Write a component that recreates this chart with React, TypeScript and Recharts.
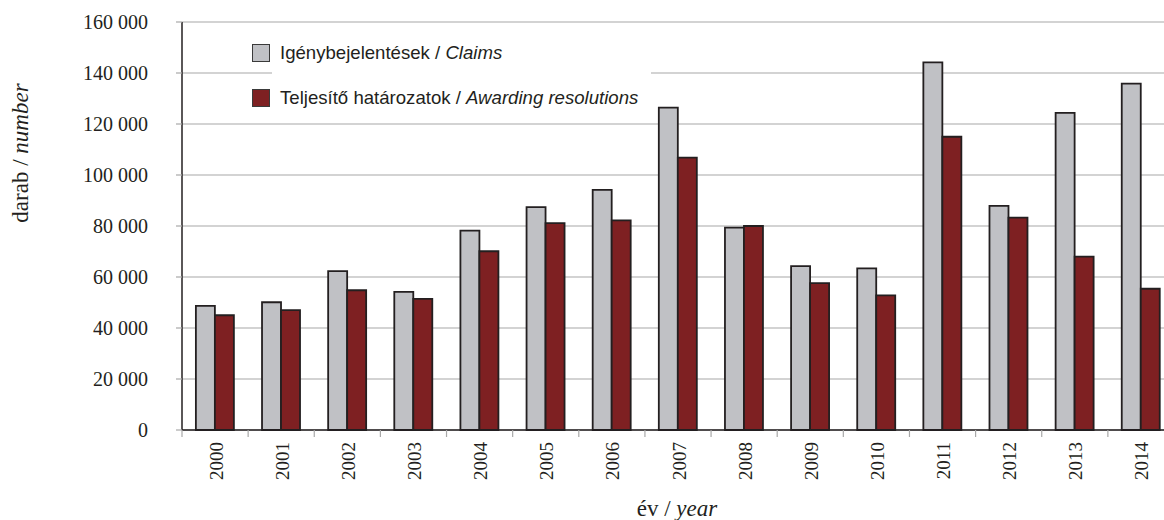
import { Bar, BarChart, CartesianGrid, Legend, XAxis, YAxis } from "recharts";

const YEARS = ["2000", "2001", "2002", "2003", "2004", "2005", "2006", "2007", "2008", "2009", "2010", "2011", "2012", "2013", "2014"];
const CLAIMS = [48700, 50100, 62300, 54200, 78200, 87400, 94200, 126400, 79400, 64300, 63400, 144200, 87900, 124400, 135800];
const AWARDS = [45000, 47000, 54800, 51400, 70100, 81100, 82200, 106800, 80000, 57600, 52800, 115000, 83300, 68000, 55400];
const Y_TICKS = [0, 20000, 40000, 60000, 80000, 100000, 120000, 140000, 160000];

const INK = "#231f20";
const GREY_BAR = "#c0c1c5";
const RED_BAR = "#7e2022";
const GRID = "#a8a8a8";
const SERIF = "'Liberation Serif', 'Times New Roman', serif";
const SANS = "'Liberation Sans', Arial, sans-serif";

const data = YEARS.map((year, i) => ({ year, claims: CLAIMS[i], awards: AWARDS[i] }));

const fmt = (v: number) => String(v).replace(/\B(?=(\d{3})+(?!\d))/g, " ");

// év felirat + határvonalas tick a kategóriák szélén
function YearTick(props: any) {
  const { x, y, payload, index } = props;
  const half = payload?.offset || 33;
  return (
    <g>
      <line x1={x - half} x2={x - half} y1={y} y2={y + 7} stroke={GRID} strokeWidth={1.2} />
      {index === YEARS.length - 1 && (
        <line x1={x + half} x2={x + half} y1={y} y2={y + 7} stroke={GRID} strokeWidth={1.2} />
      )}
      <text
        x={x + 1}
        y={y + 12}
        transform={`rotate(-90, ${x + 1}, ${y + 12})`}
        textAnchor="end"
        dominantBaseline="central"
        fill={INK}
        fontSize={19}
        fontFamily={SERIF}
      >
        {payload.value}
      </text>
    </g>
  );
}

function LegendBox() {
  const sq = (top: number, fill: string) => (
    <div
      style={{
        position: "absolute",
        left: 252,
        top,
        width: 18,
        height: 18,
        boxSizing: "border-box",
        background: fill,
        border: "1.5px solid #3a3a3a",
      }}
    />
  );
  const txt = (top: number, main: string, it: string) => (
    <div
      style={{
        position: "absolute",
        left: 280,
        top,
        height: 22,
        lineHeight: "22px",
        fontFamily: SANS,
        fontSize: 18.6,
        color: INK,
        whiteSpace: "nowrap",
      }}
    >
      {main} <i>{it}</i>
    </div>
  );
  return (
    <div style={{ position: "relative", width: 1164, height: 120 }}>
      <div style={{ position: "absolute", left: 272, top: 64, width: 379, height: 18, background: "#fff" }} />
      {sq(44, GREY_BAR)}
      {txt(42, "Igénybejelentések /", "Claims")}
      {sq(88.5, RED_BAR)}
      {txt(86.5, "Teljesítő határozatok /", "Awarding resolutions")}
    </div>
  );
}

export default function App() {
  return (
    <div style={{ width: 1164, height: 520, overflow: "hidden", position: "relative", background: "#fff" }}>
      <style>{`body{margin:0}`}</style>
      <BarChart
        width={1180}
        height={520}
        data={data}
        margin={{ top: 22, right: 6, bottom: 0, left: 0 }}
        barCategoryGap="21%"
        barGap={0}
      >
        <CartesianGrid vertical={false} stroke={GRID} strokeWidth={1.2} />
        <XAxis
          dataKey="year"
          height={90}
          interval={0}
          tickLine={false}
          tickSize={0}
          tickMargin={0}
          axisLine={{ stroke: INK, strokeWidth: 1.5 }}
          tick={<YearTick />}
        />
        <YAxis
          width={182}
          domain={[0, 160000]}
          ticks={Y_TICKS}
          interval={0}
          tickFormatter={fmt}
          tickSize={6}
          tickMargin={28}
          tickLine={{ stroke: GRID, strokeWidth: 1.2 }}
          axisLine={{ stroke: INK, strokeWidth: 1.5 }}
          tick={{ fill: INK, fontSize: 20, fontFamily: SERIF }}
        />
        <Legend
          layout="horizontal"
          align="center"
          verticalAlign="middle"
          wrapperStyle={{ left: 0, top: 0, width: 1164, height: 120 }}
          content={() => <LegendBox />}
        />
        <Bar dataKey="claims" fill={GREY_BAR} stroke={INK} strokeWidth={1.8} isAnimationActive={false} />
        <Bar dataKey="awards" fill={RED_BAR} stroke={INK} strokeWidth={1.8} isAnimationActive={false} />
      </BarChart>
      <svg width={1164} height={520} style={{ position: "absolute", left: 0, top: 0, pointerEvents: "none" }}>
        <text
          x={20}
          y={153}
          transform="rotate(-90, 20, 153)"
          textAnchor="middle"
          dominantBaseline="central"
          fill={INK}
          fontSize={23}
          fontFamily={SERIF}
        >
          darab / <tspan fontStyle="italic">number</tspan>
        </text>
        <text x={677} y={516} textAnchor="middle" fill={INK} fontSize={23} fontFamily={SERIF}>
          év / <tspan fontStyle="italic">year</tspan>
        </text>
      </svg>
    </div>
  );
}
